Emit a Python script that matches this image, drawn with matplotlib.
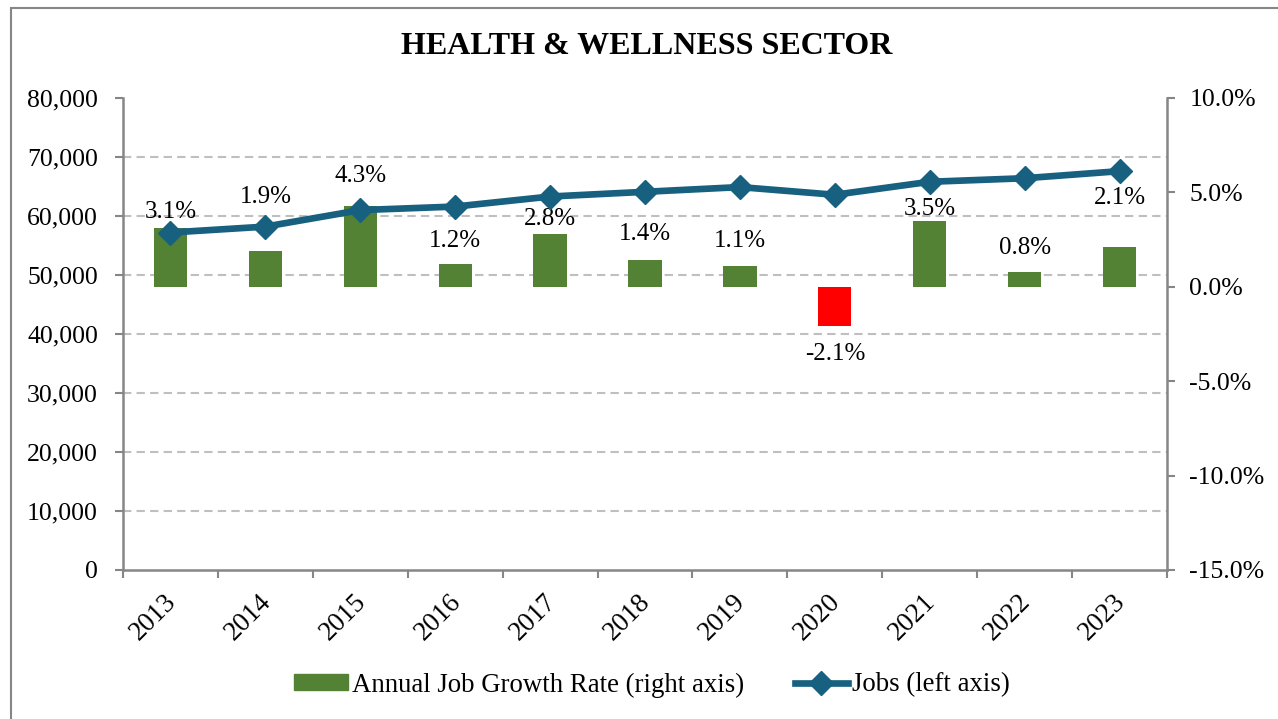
import numpy as np
import matplotlib
matplotlib.use('Agg')
import matplotlib.pyplot as plt
import matplotlib.transforms as mtransforms
from matplotlib.patches import Rectangle, Patch
from matplotlib.lines import Line2D
from matplotlib.ticker import FuncFormatter, FixedLocator

plt.rcParams['font.family'] = ['Liberation Serif', 'DejaVu Serif']

# data
years = ['2013', '2014', '2015', '2016', '2017', '2018', '2019', '2020', '2021', '2022', '2023']
growth = [3.1, 1.9, 4.3, 1.2, 2.8, 1.4, 1.1, -2.1, 3.5, 0.8, 2.1]  # % (right axis)
jobs = [57200, 58200, 61000, 61600, 63300, 64100, 64900, 63600, 65800, 66400, 67600]  # left axis

# label distance from bar end (px), hand placed in the original
label_gap = [16, 54, 30, 23, 15, 26, 25, 28, 12, 24, 49]

green = '#548235'
blue = '#17607F'
gray = '#868686'

fig = plt.figure(figsize=(12.78, 7.19), dpi=100)
ax = fig.add_axes([123/1278, 149/719, 1044/1278, 472/719])
ax2 = ax.twinx()
x = np.arange(len(years))

# bars on the percent scale
colors = [green if g >= 0 else '#FF0000' for g in growth]
ax.bar(x, growth, width=0.35, color=colors, zorder=3)
ax.set_ylim(-15, 10)
ax.set_xlim(-0.5, len(years) - 0.5)
ax.yaxis.tick_right()
ax.set_yticks(np.arange(-15, 10.1, 5))
ax.yaxis.set_major_formatter(FuncFormatter(lambda v, p: f'{v:.1f}%'))
ax.tick_params(axis='y', length=6, width=1.5, color=gray, pad=10, labelsize=18.5)

# grid follows the jobs ticks (8 steps)
ax.yaxis.set_minor_locator(FixedLocator(np.linspace(-15, 10, 9)))
ax.tick_params(axis='y', which='minor', length=0)
ax.grid(axis='y', which='minor', color='#BFBFBF', linestyle=(0, (4, 2.5)), linewidth=1.5, zorder=0)
ax.set_axisbelow(True)

ax.set_xticks(x)
ax.set_xticklabels(years, rotation=45, ha='right', rotation_mode='anchor', fontsize=19.5)
ax.xaxis.set_minor_locator(FixedLocator(np.arange(-0.5, len(years), 1)))
ax.tick_params(axis='x', which='major', length=0, pad=14)
ax.tick_params(axis='x', which='minor', length=6, width=1.5, color=gray)
shift = mtransforms.ScaledTranslation(-7/100, 0, fig.dpi_scale_trans)
for lab in ax.get_xticklabels():
    lab.set_transform(lab.get_transform() + shift)

for s in ['left', 'right', 'bottom']:
    ax.spines[s].set_color(gray)
    ax.spines[s].set_linewidth(1.8)
ax.spines['top'].set_visible(False)

for i, g in enumerate(growth):
    off = label_gap[i] * 0.72
    ax.annotate(f'{g:.1f}%', (x[i], g), xytext=(0, off if g >= 0 else -off),
                textcoords='offset points', ha='center', va='center', fontsize=18)

# jobs line on the left scale
ax2.plot(x, jobs, color=blue, linewidth=4.8, marker='D', markersize=12.5, zorder=5)
ax2.set_ylim(0, 80000)
ax2.yaxis.tick_left()
ax2.set_yticks(np.arange(0, 80001, 10000))
ax2.yaxis.set_major_formatter(FuncFormatter(lambda v, p: f'{v:,.0f}'))
ax2.tick_params(axis='y', length=6, width=1.5, color=gray, pad=12, labelsize=18.5)
for s in ax2.spines.values():
    s.set_visible(False)

fig.text(647/1278, 1 - 46/719, 'HEALTH & WELLNESS SECTOR', ha='center', va='center',
         fontsize=23, fontweight='bold')

handles = [Patch(color=green),
           Line2D([], [], color=blue, linewidth=4.8, marker='D', markersize=12.5)]
fig.legend(handles, ['Annual Job Growth Rate (right axis)', 'Jobs (left axis)'],
           loc='center', bbox_to_anchor=(652/1278, 1 - 685/719), ncol=2, frameon=False,
           fontsize=19.3, handlelength=2.0, handleheight=0.55, handletextpad=0.15,
           columnspacing=1.9)

fig.patches.append(Rectangle((11/1278, -0.05), 1.1, 1 - 8/719 + 0.05, transform=fig.transFigure,
                             fill=False, edgecolor=gray, linewidth=1.5))

fig.savefig('out.png', dpi=100)
